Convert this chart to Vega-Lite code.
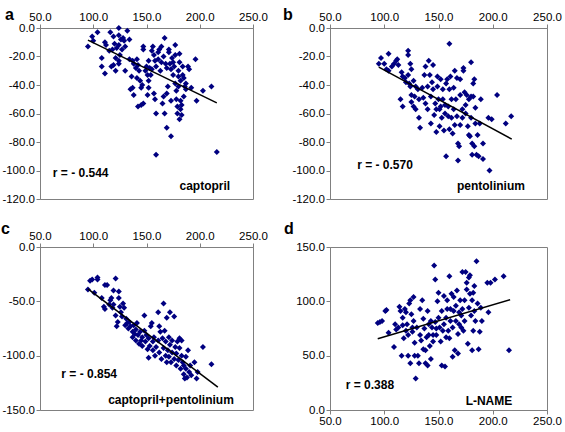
{
  "$schema": "https://vega.github.io/schema/vega-lite/v6.json",
  "padding": {"left": 0, "top": 6, "right": 0, "bottom": 0},
  "background": "white",
  "config": {
    "view": {"stroke": "#808080", "strokeWidth": 1},
    "axis": {"domainColor": "#808080", "tickColor": "#808080", "tickSize": 4, "labelFont": "Liberation Sans", "labelFontSize": 11.5, "labelColor": "#000000", "grid": false, "title": null, "labelPadding": 1.5, "labelFlush": false, "labelOverlap": false, "labelBound": false},
    "title": {"font": "Liberation Sans", "fontSize": 16, "fontWeight": "bold", "color": "#000000", "anchor": "start", "frame": "group"},
    "text": {"font": "Liberation Sans", "fontSize": 12, "fontWeight": "bold", "align": "left", "baseline": "middle", "color": "#000000"}
  },
  "datasets": {
    "a": [{"x":95,"y":-13},{"x":99,"y":-6},{"x":104,"y":-3},{"x":100,"y":-9},{"x":108,"y":-21},{"x":111,"y":-10},{"x":112,"y":-12},{"x":108,"y":-27},{"x":111,"y":-32},{"x":118,"y":-15},{"x":115,"y":-16},{"x":119,"y":-6},{"x":116,"y":-3},{"x":120,"y":-11},{"x":124,"y":0},{"x":124,"y":-5},{"x":126,"y":-8},{"x":128,"y":-7},{"x":124,"y":-12},{"x":122,"y":-14},{"x":127,"y":-15},{"x":129,"y":-9},{"x":132,"y":-2},{"x":130,"y":-13},{"x":119,"y":-26},{"x":121,"y":-30},{"x":117,"y":-27},{"x":121,"y":-21},{"x":124,"y":-25},{"x":125,"y":-19},{"x":124,"y":-23},{"x":130,"y":-30},{"x":134,"y":-8},{"x":134,"y":-22},{"x":137,"y":-23},{"x":138,"y":-25},{"x":136,"y":-34},{"x":137,"y":-42},{"x":138,"y":-47},{"x":135,"y":-43},{"x":140,"y":-28},{"x":141,"y":-22},{"x":142,"y":-26},{"x":143,"y":-30},{"x":141,"y":-35},{"x":144,"y":-37},{"x":142,"y":-55},{"x":145,"y":-54},{"x":147,"y":-53},{"x":145,"y":-42},{"x":146,"y":-40},{"x":147,"y":-13},{"x":147,"y":-15},{"x":150,"y":-27},{"x":149,"y":-30},{"x":151,"y":-33},{"x":152,"y":-37},{"x":152,"y":-42},{"x":151,"y":-47},{"x":152,"y":-23},{"x":153,"y":-28},{"x":154,"y":-33},{"x":155,"y":-29},{"x":155,"y":-16},{"x":156,"y":-13},{"x":157,"y":-19},{"x":158,"y":-23},{"x":159,"y":-27},{"x":157,"y":-46},{"x":158,"y":-50},{"x":159,"y":-60},{"x":159,"y":-89},{"x":161,"y":-17},{"x":161,"y":-22},{"x":162,"y":-15},{"x":164,"y":-24},{"x":163,"y":-30},{"x":165,"y":-53},{"x":166,"y":-48},{"x":164,"y":-13},{"x":166,"y":-20},{"x":167,"y":-7},{"x":168,"y":-25},{"x":169,"y":-28},{"x":167,"y":-60},{"x":169,"y":-46},{"x":170,"y":-41},{"x":169,"y":-70},{"x":171,"y":-15},{"x":171,"y":-17},{"x":172,"y":-25},{"x":173,"y":-29},{"x":173,"y":-51},{"x":173,"y":-76},{"x":174,"y":-21},{"x":175,"y":-24},{"x":175,"y":-33},{"x":176,"y":-27},{"x":177,"y":-39},{"x":177,"y":-12},{"x":177,"y":-19},{"x":178,"y":-44},{"x":178,"y":-50},{"x":179,"y":-55},{"x":179,"y":-60},{"x":180,"y":-30},{"x":180,"y":-34},{"x":180,"y":-41},{"x":181,"y":-18},{"x":181,"y":-24},{"x":181,"y":-64},{"x":182,"y":-57},{"x":182,"y":-51},{"x":182,"y":-37},{"x":183,"y":-54},{"x":183,"y":-61},{"x":184,"y":-27},{"x":184,"y":-33},{"x":185,"y":-48},{"x":185,"y":-35},{"x":186,"y":-41},{"x":187,"y":-39},{"x":187,"y":-43},{"x":189,"y":-27},{"x":190,"y":-29},{"x":192,"y":-42},{"x":196,"y":-22},{"x":197,"y":-51},{"x":203,"y":-44},{"x":211,"y":-41},{"x":216,"y":-87}],
    "b": [{"x":95,"y":-25},{"x":97,"y":-21},{"x":100,"y":-25},{"x":104,"y":-18},{"x":102,"y":-29},{"x":104,"y":-30},{"x":107,"y":-27},{"x":109,"y":-25},{"x":111,"y":-23},{"x":112,"y":-22},{"x":113,"y":-26},{"x":116,"y":-31},{"x":117,"y":-34},{"x":115,"y":-50},{"x":117,"y":-55},{"x":119,"y":-35},{"x":120,"y":-38},{"x":122,"y":-16},{"x":122,"y":-19},{"x":122,"y":-33},{"x":123,"y":-39},{"x":124,"y":-25},{"x":125,"y":-29},{"x":124,"y":-41},{"x":125,"y":-47},{"x":125,"y":-52},{"x":127,"y":-55},{"x":127,"y":-37},{"x":128,"y":-48},{"x":129,"y":-41},{"x":129,"y":-57},{"x":131,"y":-43},{"x":132,"y":-50},{"x":132,"y":-63},{"x":133,"y":-70},{"x":135,"y":-42},{"x":136,"y":-49},{"x":137,"y":-33},{"x":138,"y":-27},{"x":138,"y":-53},{"x":140,"y":-57},{"x":140,"y":-41},{"x":141,"y":-23},{"x":142,"y":-33},{"x":143,"y":-48},{"x":143,"y":-67},{"x":144,"y":-38},{"x":145,"y":-26},{"x":145,"y":-43},{"x":146,"y":-61},{"x":147,"y":-53},{"x":148,"y":-57},{"x":148,"y":-73},{"x":149,"y":-34},{"x":149,"y":-41},{"x":150,"y":-50},{"x":151,"y":-57},{"x":151,"y":-69},{"x":152,"y":-36},{"x":152,"y":-55},{"x":153,"y":-63},{"x":154,"y":-43},{"x":154,"y":-50},{"x":155,"y":-72},{"x":156,"y":-54},{"x":156,"y":-60},{"x":157,"y":-39},{"x":157,"y":-90},{"x":158,"y":-36},{"x":159,"y":-62},{"x":159,"y":-55},{"x":160,"y":-11},{"x":160,"y":-71},{"x":160,"y":-43},{"x":161,"y":-34},{"x":162,"y":-50},{"x":162,"y":-63},{"x":163,"y":-74},{"x":164,"y":-57},{"x":164,"y":-42},{"x":165,"y":-68},{"x":165,"y":-30},{"x":166,"y":-50},{"x":167,"y":-62},{"x":167,"y":-35},{"x":168,"y":-93},{"x":168,"y":-81},{"x":169,"y":-83},{"x":170,"y":-68},{"x":170,"y":-36},{"x":170,"y":-47},{"x":172,"y":-57},{"x":172,"y":-63},{"x":173,"y":-28},{"x":173,"y":-30},{"x":174,"y":-45},{"x":175,"y":-54},{"x":175,"y":-60},{"x":176,"y":-47},{"x":177,"y":-69},{"x":178,"y":-75},{"x":178,"y":-50},{"x":179,"y":-76},{"x":180,"y":-48},{"x":180,"y":-63},{"x":180,"y":-24},{"x":181,"y":-89},{"x":181,"y":-81},{"x":182,"y":-39},{"x":182,"y":-48},{"x":183,"y":-36},{"x":183,"y":-83},{"x":184,"y":-56},{"x":184,"y":-67},{"x":185,"y":-89},{"x":186,"y":-75},{"x":187,"y":-90},{"x":188,"y":-67},{"x":189,"y":-50},{"x":191,"y":-81},{"x":191,"y":-92},{"x":196,"y":-63},{"x":197,"y":-100},{"x":199,"y":-64},{"x":204,"y":-47},{"x":212,"y":-67},{"x":217,"y":-62}],
    "c": [{"x":95,"y":-39},{"x":97,"y":-31},{"x":99,"y":-30},{"x":101,"y":-42},{"x":104,"y":-28},{"x":104,"y":-30},{"x":108,"y":-47},{"x":110,"y":-55},{"x":111,"y":-57},{"x":111,"y":-35},{"x":113,"y":-35},{"x":115,"y":-53},{"x":116,"y":-49},{"x":117,"y":-47},{"x":118,"y":-56},{"x":119,"y":-40},{"x":121,"y":-29},{"x":119,"y":-53},{"x":121,"y":-63},{"x":122,"y":-73},{"x":123,"y":-69},{"x":124,"y":-41},{"x":124,"y":-47},{"x":125,"y":-55},{"x":126,"y":-60},{"x":127,"y":-64},{"x":128,"y":-52},{"x":129,"y":-56},{"x":130,"y":-72},{"x":131,"y":-66},{"x":132,"y":-70},{"x":133,"y":-75},{"x":134,"y":-69},{"x":135,"y":-73},{"x":137,"y":-78},{"x":137,"y":-83},{"x":138,"y":-72},{"x":139,"y":-80},{"x":140,"y":-76},{"x":140,"y":-86},{"x":141,"y":-70},{"x":142,"y":-81},{"x":143,"y":-89},{"x":144,"y":-78},{"x":145,"y":-86},{"x":146,"y":-83},{"x":146,"y":-91},{"x":148,"y":-63},{"x":148,"y":-77},{"x":149,"y":-87},{"x":150,"y":-81},{"x":151,"y":-94},{"x":152,"y":-102},{"x":152,"y":-84},{"x":153,"y":-91},{"x":154,"y":-73},{"x":155,"y":-70},{"x":156,"y":-87},{"x":156,"y":-95},{"x":157,"y":-83},{"x":158,"y":-100},{"x":159,"y":-92},{"x":161,"y":-60},{"x":161,"y":-86},{"x":162,"y":-73},{"x":162,"y":-97},{"x":163,"y":-78},{"x":164,"y":-103},{"x":165,"y":-84},{"x":166,"y":-52},{"x":166,"y":-93},{"x":167,"y":-77},{"x":168,"y":-100},{"x":168,"y":-87},{"x":169,"y":-65},{"x":169,"y":-106},{"x":170,"y":-95},{"x":171,"y":-83},{"x":171,"y":-101},{"x":172,"y":-90},{"x":172,"y":-60},{"x":173,"y":-106},{"x":174,"y":-97},{"x":174,"y":-86},{"x":176,"y":-64},{"x":176,"y":-103},{"x":177,"y":-92},{"x":178,"y":-109},{"x":178,"y":-98},{"x":179,"y":-87},{"x":180,"y":-104},{"x":181,"y":-84},{"x":181,"y":-93},{"x":182,"y":-112},{"x":183,"y":-100},{"x":183,"y":-86},{"x":184,"y":-106},{"x":185,"y":-117},{"x":185,"y":-109},{"x":186,"y":-121},{"x":187,"y":-101},{"x":187,"y":-112},{"x":188,"y":-120},{"x":189,"y":-95},{"x":190,"y":-115},{"x":191,"y":-109},{"x":192,"y":-118},{"x":195,"y":-106},{"x":197,"y":-121},{"x":198,"y":-115},{"x":203,"y":-92},{"x":211,"y":-108}],
    "d": [{"x":94,"y":80},{"x":96,"y":81},{"x":98,"y":82},{"x":101,"y":91},{"x":102,"y":92},{"x":104,"y":71},{"x":109,"y":58},{"x":110,"y":79},{"x":111,"y":74},{"x":113,"y":76},{"x":114,"y":95},{"x":115,"y":91},{"x":116,"y":50},{"x":117,"y":78},{"x":117,"y":85},{"x":118,"y":66},{"x":119,"y":93},{"x":120,"y":73},{"x":120,"y":90},{"x":121,"y":79},{"x":122,"y":69},{"x":122,"y":50},{"x":123,"y":98},{"x":124,"y":101},{"x":124,"y":43},{"x":125,"y":88},{"x":126,"y":76},{"x":126,"y":72},{"x":127,"y":82},{"x":127,"y":104},{"x":128,"y":62},{"x":128,"y":50},{"x":129,"y":29},{"x":130,"y":76},{"x":131,"y":50},{"x":132,"y":43},{"x":133,"y":69},{"x":133,"y":93},{"x":134,"y":64},{"x":135,"y":101},{"x":136,"y":56},{"x":136,"y":84},{"x":137,"y":75},{"x":138,"y":55},{"x":138,"y":43},{"x":139,"y":67},{"x":140,"y":91},{"x":140,"y":41},{"x":141,"y":79},{"x":141,"y":69},{"x":142,"y":59},{"x":143,"y":82},{"x":143,"y":47},{"x":144,"y":76},{"x":145,"y":63},{"x":145,"y":69},{"x":146,"y":133},{"x":147,"y":120},{"x":147,"y":81},{"x":148,"y":75},{"x":148,"y":69},{"x":149,"y":100},{"x":150,"y":108},{"x":150,"y":85},{"x":151,"y":76},{"x":152,"y":63},{"x":153,"y":41},{"x":153,"y":91},{"x":154,"y":73},{"x":155,"y":105},{"x":155,"y":79},{"x":156,"y":40},{"x":157,"y":67},{"x":157,"y":85},{"x":158,"y":93},{"x":158,"y":101},{"x":159,"y":73},{"x":160,"y":123},{"x":160,"y":66},{"x":161,"y":82},{"x":161,"y":93},{"x":162,"y":107},{"x":163,"y":49},{"x":163,"y":76},{"x":164,"y":91},{"x":164,"y":104},{"x":165,"y":55},{"x":166,"y":82},{"x":166,"y":96},{"x":167,"y":110},{"x":168,"y":70},{"x":168,"y":52},{"x":169,"y":79},{"x":169,"y":90},{"x":170,"y":101},{"x":171,"y":76},{"x":171,"y":87},{"x":172,"y":127},{"x":172,"y":93},{"x":173,"y":73},{"x":174,"y":82},{"x":174,"y":101},{"x":175,"y":127},{"x":176,"y":111},{"x":176,"y":117},{"x":177,"y":61},{"x":178,"y":94},{"x":178,"y":122},{"x":179,"y":107},{"x":179,"y":124},{"x":180,"y":87},{"x":181,"y":101},{"x":181,"y":55},{"x":182,"y":73},{"x":182,"y":108},{"x":183,"y":114},{"x":183,"y":91},{"x":184,"y":82},{"x":185,"y":137},{"x":186,"y":98},{"x":187,"y":56},{"x":188,"y":72},{"x":189,"y":94},{"x":190,"y":82},{"x":195,"y":117},{"x":196,"y":90},{"x":198,"y":117},{"x":202,"y":120},{"x":210,"y":123},{"x":215,"y":55}],
    "fits": [{"panel":"a","x":95,"y":-8.5},{"panel":"a","x":216,"y":-52.5},{"panel":"b","x":95,"y":-27.5},{"panel":"b","x":217.5,"y":-78},{"panel":"c","x":95,"y":-38.5},{"panel":"c","x":217,"y":-129},{"panel":"d","x":94,"y":65.5},{"panel":"d","x":216,"y":101.5}],
    "notes": [{"panel":"a","x":62,"y":-102,"label":"r  = - 0.544"},{"panel":"a","x":181,"y":-111,"label":"captopril"},{"panel":"b","x":75,"y":-96,"label":"r = - 0.570"},{"panel":"b","x":167,"y":-111,"label":"pentolinium"},{"panel":"c","x":70,"y":-117,"label":"r = - 0.854"},{"panel":"c","x":114,"y":-140.5,"label":"captopril+pentolinium"},{"panel":"d","x":64.5,"y":23,"label":"r = 0.388"},{"panel":"d","x":175,"y":8.5,"label":"L-NAME"}]
  },
  "columns": 2,
  "bounds": "flush",
  "spacing": {"row": 48, "column": 77},
  "concat": [
    {
      "width": 213, "height": 171,
      "title": {"text": "a", "dx": -35, "offset": -11},
      "encoding": {
        "x": {"field": "x", "type": "quantitative", "scale": {"domain": [50, 250], "nice": false, "zero": false}, "axis": {"orient": "top", "values": [50, 100, 150, 200, 250], "labelExpr": "format(datum.value, '.1f')"}},
        "y": {"field": "y", "type": "quantitative", "scale": {"domain": [-120, 0], "nice": false, "zero": false}, "axis": {"values": [0, -20, -40, -60, -80, -100, -120], "labelExpr": "(datum.value < 0 ? '-' : '') + format(abs(datum.value), '.1f')"}}
      },
      "layer": [
        {"data": {"name": "a"}, "mark": {"type": "point", "shape": "diamond", "filled": true, "color": "#000080", "size": 36, "opacity": 1}},
        {"data": {"name": "fits"}, "transform": [{"filter": "datum.panel == 'a'"}], "mark": {"type": "line", "color": "#000000", "strokeWidth": 1.5}},
        {"data": {"name": "notes"}, "transform": [{"filter": "datum.panel == 'a'"}], "mark": {"type": "text"}, "encoding": {"text": {"field": "label"}}}
      ]
    },
    {
      "width": 217, "height": 171,
      "title": {"text": "b", "dx": -47, "offset": -11},
      "encoding": {
        "x": {"field": "x", "type": "quantitative", "scale": {"domain": [50, 250], "nice": false, "zero": false}, "axis": {"orient": "top", "values": [50, 100, 150, 200, 250], "labelExpr": "format(datum.value, '.1f')"}},
        "y": {"field": "y", "type": "quantitative", "scale": {"domain": [-120, 0], "nice": false, "zero": false}, "axis": {"values": [0, -20, -40, -60, -80, -100, -120], "labelExpr": "(datum.value < 0 ? '-' : '') + format(abs(datum.value), '.1f')"}}
      },
      "layer": [
        {"data": {"name": "b"}, "mark": {"type": "point", "shape": "diamond", "filled": true, "color": "#000080", "size": 36, "opacity": 1}},
        {"data": {"name": "fits"}, "transform": [{"filter": "datum.panel == 'b'"}], "mark": {"type": "line", "color": "#000000", "strokeWidth": 1.5}},
        {"data": {"name": "notes"}, "transform": [{"filter": "datum.panel == 'b'"}], "mark": {"type": "text"}, "encoding": {"text": {"field": "label"}}}
      ]
    },
    {
      "width": 213, "height": 163,
      "title": {"text": "c", "dx": -39, "offset": -6},
      "encoding": {
        "x": {"field": "x", "type": "quantitative", "scale": {"domain": [50, 250], "nice": false, "zero": false}, "axis": {"orient": "top", "values": [50, 100, 150, 200, 250], "labelExpr": "format(datum.value, '.1f')"}},
        "y": {"field": "y", "type": "quantitative", "scale": {"domain": [-150, 0], "nice": false, "zero": false}, "axis": {"values": [0, -50, -100, -150], "labelExpr": "(datum.value < 0 ? '-' : '') + format(abs(datum.value), '.1f')"}}
      },
      "layer": [
        {"data": {"name": "c"}, "mark": {"type": "point", "shape": "diamond", "filled": true, "color": "#000080", "size": 36, "opacity": 1}},
        {"data": {"name": "fits"}, "transform": [{"filter": "datum.panel == 'c'"}], "mark": {"type": "line", "color": "#000000", "strokeWidth": 1.5}},
        {"data": {"name": "notes"}, "transform": [{"filter": "datum.panel == 'c'"}], "mark": {"type": "text"}, "encoding": {"text": {"field": "label"}}}
      ]
    },
    {
      "width": 217, "height": 163,
      "title": {"text": "d", "dx": -46, "offset": 4},
      "encoding": {
        "x": {"field": "x", "type": "quantitative", "scale": {"domain": [50, 250], "nice": false, "zero": false}, "axis": {"orient": "bottom", "values": [50, 100, 150, 200, 250], "labelExpr": "format(datum.value, '.1f')"}},
        "y": {"field": "y", "type": "quantitative", "scale": {"domain": [0, 150], "nice": false, "zero": false}, "axis": {"values": [0, 50, 100, 150], "labelExpr": "format(datum.value, '.1f')"}}
      },
      "layer": [
        {"data": {"name": "d"}, "mark": {"type": "point", "shape": "diamond", "filled": true, "color": "#000080", "size": 36, "opacity": 1}},
        {"data": {"name": "fits"}, "transform": [{"filter": "datum.panel == 'd'"}], "mark": {"type": "line", "color": "#000000", "strokeWidth": 1.5}},
        {"data": {"name": "notes"}, "transform": [{"filter": "datum.panel == 'd'"}], "mark": {"type": "text"}, "encoding": {"text": {"field": "label"}}}
      ]
    }
  ]
}
